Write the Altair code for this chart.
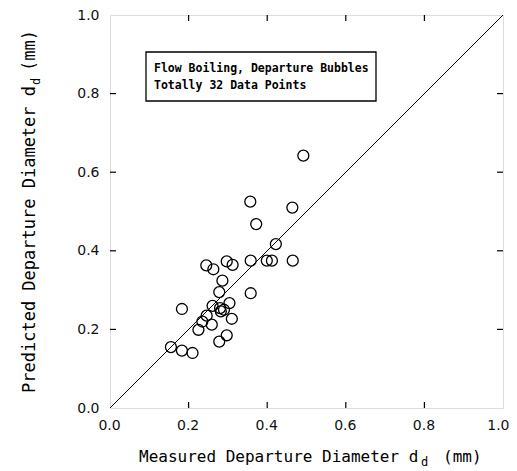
import altair as alt
import pandas as pd

# ---- data ----
measured = [0.492, 0.357, 0.464, 0.372, 0.422, 0.358, 0.399, 0.412, 0.465, 0.297,
            0.312, 0.245, 0.263, 0.286, 0.278, 0.358, 0.183, 0.261, 0.304, 0.280,
            0.282, 0.310, 0.246, 0.235, 0.259, 0.225, 0.297, 0.278, 0.155, 0.183,
            0.210, 0.290]
predicted = [0.642, 0.525, 0.510, 0.468, 0.417, 0.375, 0.375, 0.375, 0.375, 0.373,
             0.364, 0.363, 0.353, 0.324, 0.295, 0.292, 0.252, 0.260, 0.267, 0.254,
             0.246, 0.227, 0.235, 0.220, 0.212, 0.199, 0.185, 0.169, 0.155, 0.146,
             0.140, 0.250]
diag_x = [0.0, 1.0]
diag_y = [0.0, 1.0]
tick_values = [0.0, 0.2, 0.4, 0.6, 0.8, 1.0]
inner_ticks = [0.2, 0.4, 0.6, 0.8]
box_lines = ["Flow Boiling, Departure Bubbles", "Totally 32 Data Points"]
x_title = ["Measured Departure Diameter d", "d", "(mm)"]
y_title = ["Predicted Departure Diameter d", "d", "(mm)"]

W = 393
H = 393
TL = 6  # inward tick length
MONO = "DejaVu Sans Mono"

pts = pd.DataFrame({"m": measured, "p": predicted})
diag = pd.DataFrame({"m": diag_x, "p": diag_y})
ticks = pd.DataFrame({"t": inner_ticks})

xs = alt.Scale(domain=[0, 1], nice=False, zero=False)
ys = alt.Scale(domain=[0, 1], nice=False, zero=False)

xaxis = alt.Axis(values=tick_values, format=".1f", ticks=False, domain=False, grid=False,
                 labelFont="DejaVu Sans", labelFontSize=14, labelColor="#111",
                 labelFlush=False, labelPadding=10, title=None,
                 labelAlign=alt.ExprRef("datum.value == 1 ? 'right' : 'center'"),
                 labelOffset=alt.ExprRef("datum.value == 1 ? 6 : -1"))
yaxis = alt.Axis(values=tick_values, format=".1f", ticks=False, domain=False, grid=False,
                 labelFont="DejaVu Sans", labelFontSize=14, labelColor="#111",
                 labelFlush=False, labelPadding=11, title=None)

points = alt.Chart(pts).mark_point(shape="circle", filled=False, size=120,
                                   stroke="black", strokeWidth=1.3, opacity=1).encode(
    x=alt.X("m:Q", scale=xs, axis=xaxis),
    y=alt.Y("p:Q", scale=ys, axis=yaxis),
)

line = alt.Chart(diag).mark_line(color="black", strokeWidth=1).encode(
    x=alt.X("m:Q", scale=xs),
    y=alt.Y("p:Q", scale=ys),
)

tb = alt.Chart(ticks).mark_rule(color="black", strokeWidth=1.2).encode(
    x=alt.X("t:Q", scale=xs), y=alt.value(H), y2=alt.value(H - TL))
tt = alt.Chart(ticks).mark_rule(color="black", strokeWidth=1.2).encode(
    x=alt.X("t:Q", scale=xs), y=alt.value(0), y2=alt.value(TL))
tl = alt.Chart(ticks).mark_rule(color="black", strokeWidth=1.2).encode(
    y=alt.Y("t:Q", scale=ys), x=alt.value(0), x2=alt.value(TL))
tr = alt.Chart(ticks).mark_rule(color="black", strokeWidth=1.2).encode(
    y=alt.Y("t:Q", scale=ys), x=alt.value(W), x2=alt.value(W - TL))

box = alt.Chart(pd.DataFrame({"a": [0]})).mark_rect(
    fill="white", stroke="black", strokeWidth=1.3).encode(
    x=alt.value(36), x2=alt.value(266), y=alt.value(37), y2=alt.value(86))

def txt(s, x, y, size, font=MONO, weight="normal", angle=0):
    return alt.Chart(pd.DataFrame({"s": [s]})).mark_text(
        align="left", baseline="alphabetic", font=font, fontSize=size,
        fontWeight=weight, angle=angle, color="black").encode(
        x=alt.value(x), y=alt.value(y), text="s:N")

box_t1 = txt(box_lines[0], 44, 57, 11.5, weight="bold")
box_t2 = txt(box_lines[1], 44, 74, 11.5, weight="bold")

xt1 = txt(x_title[0], 29, 447, 16)
xt2 = txt(x_title[1], 311, 451, 12)
xt3 = txt(x_title[2], 333, 447, 16)

yt1 = txt(y_title[0], -75, 378, 17, angle=270)
yt2 = txt(y_title[1], -70, 70, 12, angle=270)
yt3 = txt(y_title[2], -75, 56, 17, angle=270)

chart = alt.layer(line, points, tb, tt, tl, tr, box, box_t1, box_t2,
                  xt1, xt2, xt3, yt1, yt2, yt3).properties(
    width=W, height=H, autosize="none",
    padding={"left": 102, "top": 7, "right": 6, "bottom": 62},
).configure_view(stroke="black", strokeWidth=1.5).configure(background="white")

chart.save("out.html", embed_options={"renderer": "svg", "actions": False})
